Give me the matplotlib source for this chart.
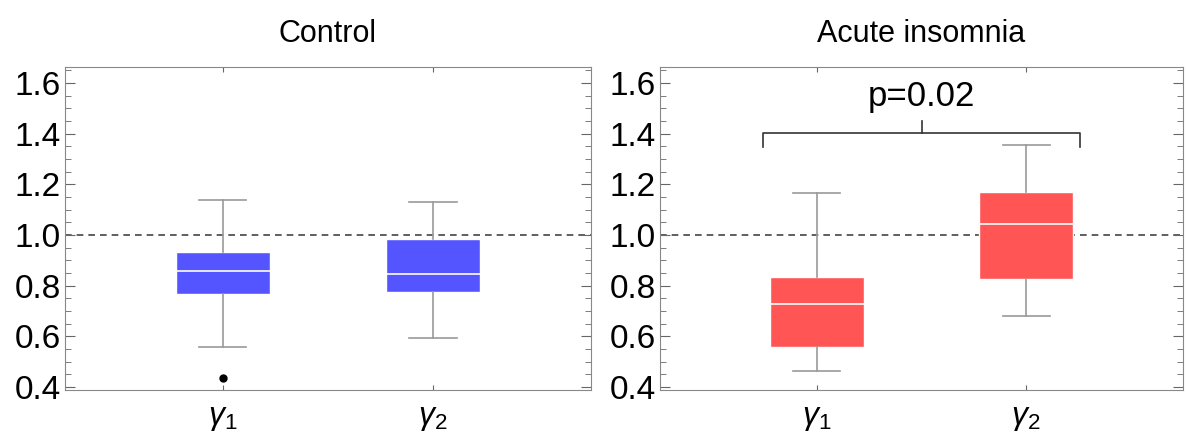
import matplotlib.pyplot as plt
from matplotlib.ticker import MultipleLocator

plt.rcParams['font.family'] = ['Liberation Sans', 'DejaVu Sans']
plt.rcParams['mathtext.fontset'] = 'custom'
plt.rcParams['mathtext.it'] = 'Liberation Sans:italic'
plt.rcParams['mathtext.rm'] = 'Liberation Sans'

# box stats: whislo, q1, med, q3, whishi
labels = ['$\\gamma_1$', '$\\gamma_2$']
control_lo = [0.558, 0.595]
control_q1 = [0.768, 0.776]
control_med = [0.858, 0.845]
control_q3 = [0.934, 0.983]
control_hi = [1.138, 1.129]
control_fliers = [[0.434], []]

insom_lo = [0.463, 0.681]
insom_q1 = [0.557, 0.826]
insom_med = [0.727, 1.042]
insom_q3 = [0.835, 1.171]
insom_hi = [1.167, 1.356]
insom_fliers = [[], []]

def make_stats(lo, q1, med, q3, hi, fl):
    return [dict(whislo=lo[i], q1=q1[i], med=med[i], q3=q3[i], whishi=hi[i],
                 fliers=fl[i], label=labels[i]) for i in range(len(lo))]

fig = plt.figure(figsize=(11.86, 4.34), dpi=100)
ax1 = fig.add_axes([0.055, 0.101, 0.443, 0.745])
ax2 = fig.add_axes([0.5565, 0.101, 0.441, 0.745])

def draw(ax, stats, color, title):
    ax.bxp(stats, positions=[1, 2], widths=0.45, patch_artist=True, capwidths=0.225,
           boxprops=dict(facecolor=color, edgecolor='white', linewidth=1),
           medianprops=dict(color='white', linewidth=1.2),
           whiskerprops=dict(color='#999999', linewidth=1.2),
           capprops=dict(color='#999999', linewidth=1.2),
           flierprops=dict(marker='o', markerfacecolor='black', markeredgecolor='black', markersize=5))
    ax.axhline(1.0, color='#444444', linestyle=(0, (4, 3)), linewidth=1.2, zorder=0)
    ax.set_xlim(0.25, 2.75)
    ax.set_ylim(0.387, 1.664)
    ax.set_yticks([0.4, 0.6, 0.8, 1.0, 1.2, 1.4, 1.6])
    ax.set_yticklabels(['0.4', '0.6', '0.8', '1.0', '1.2', '1.4', '1.6'])
    ax.yaxis.set_minor_locator(MultipleLocator(0.05))
    ax.tick_params(axis='both', which='both', direction='in', top=True, right=True,
                   color='#666666', labelsize=24)
    ax.tick_params(axis='x', which='major', pad=9, labelsize=23)
    ax.tick_params(axis='y', which='major', length=7, pad=3)
    ax.tick_params(axis='y', which='minor', length=4)
    for s in ax.spines.values():
        s.set_color('#888888')
    ax.set_title(title, fontsize=22, pad=18)

draw(ax1, make_stats(control_lo, control_q1, control_med, control_q3, control_hi, control_fliers),
     '#5555FF', 'Control')
draw(ax2, make_stats(insom_lo, insom_q1, insom_med, insom_q3, insom_hi, insom_fliers),
     '#FF5555', 'Acute insomnia')

# significance bracket
ax2.plot([0.743, 0.743, 2.258, 2.258], [1.349, 1.402, 1.402, 1.349], color='#333333', lw=1.2)
ax2.plot([1.5, 1.5], [1.402, 1.451], color='#333333', lw=1.2)
ax2.text(1.5, 1.547, 'p=0.02', ha='center', va='center', fontsize=25)

fig.savefig('out.png')
